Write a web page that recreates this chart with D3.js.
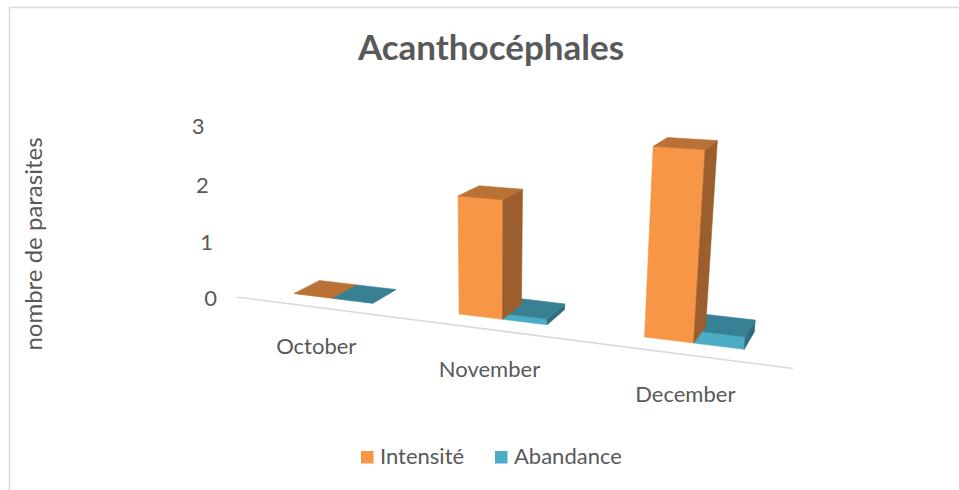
<!DOCTYPE html>
<html>
<head>
<meta charset="utf-8">
<script src="https://cdn.jsdelivr.net/npm/d3@7"></script>
<style>
  body { margin: 0; background: #fff; }
  svg text { font-family: Lato, "Open Sans", sans-serif; fill: #595959; }
</style>
</head>
<body>
<div id="chart"></div>
<script>
// chart data
const months = ['October', 'November', 'December'];
const seriesNames = ['Intensité', 'Abandance'];
const intensite = [0, 2, 3];
const abandance = [0, 0.1, 0.2];
const valueTicks = [0, 1, 2, 3];
const seriesColors = ['#f79646', '#4bacc6'];

const width = 959;
const height = 490;
const fontSize = '22px';

const svg = d3.select('#chart')
  .append('svg')
  .attr('width', width)
  .attr('height', height);

// chart area border
svg.append('rect')
  .attr('x', 9.5)
  .attr('y', 7.5)
  .attr('width', width)
  .attr('height', height)
  .attr('fill', '#fff')
  .attr('stroke', '#d9d9d9')
  .attr('stroke-width', 1.5);

// world scales: categories along x, values up, depth into the screen
const xCat = d3.scaleBand()
  .domain(months)
  .range([0, 3]);

const xSeries = d3.scaleBand()
  .domain(seriesNames)
  .range([0, xCat.bandwidth()])
  .paddingOuter(1.04);

const yWorld = d3.scaleLinear()
  .domain([0, 3])
  .range([0, 0.944]);

const zFront = 0.18;
const zBack = zFront + 0.28;

// simple perspective camera (rotation round the vertical, then tilt down)
const cam = {yaw: 22, pitch: 18.5, dist: 5.8, focal: 1150, cx: 489.5, cy: 329.5, pivotX: 1.5};
const ca = Math.cos(cam.yaw * Math.PI / 180), sa = Math.sin(cam.yaw * Math.PI / 180);
const cb = Math.cos(cam.pitch * Math.PI / 180), sb = Math.sin(cam.pitch * Math.PI / 180);

function toCamera([x, y, z]) {
  const px = x - cam.pivotX;
  const x1 = px * ca + z * sa;
  const z1 = z * ca - px * sa;
  return [x1, y * cb + z1 * sb, z1 * cb - y * sb];
}

function project(p) {
  const [x1, y2, z2] = toCamera(p);
  const den = cam.dist + z2;
  return [cam.cx + cam.focal * x1 / den, cam.cy - cam.focal * y2 / den];
}

// floor front edge (category axis line)
const lineStart = project([xCat.range()[0], 0, 0]);
const lineEnd = project([xCat.range()[1], 0, 0]);
svg.append('line')
  .attr('x1', lineStart[0]).attr('y1', lineStart[1])
  .attr('x2', lineEnd[0]).attr('y2', lineEnd[1])
  .attr('stroke', '#d9d9d9')
  .attr('stroke-width', 1.5);

// value axis labels
svg.selectAll('.tick-label')
  .data(valueTicks)
  .enter()
  .append('text')
  .attr('class', 'tick-label')
  .attr('x', d => project([0, yWorld(d), 0])[0] - 20)
  .attr('y', d => project([0, yWorld(d), 0])[1] + 1)
  .attr('dy', '0.36em')
  .attr('text-anchor', 'end')
  .style('font-size', fontSize)
  .text(d => d);

// category labels
svg.selectAll('.cat-label')
  .data(months)
  .enter()
  .append('text')
  .attr('class', 'cat-label')
  .attr('x', d => project([xCat(d) + xCat.bandwidth() / 2, 0, 0])[0])
  .attr('y', d => project([xCat(d) + xCat.bandwidth() / 2, 0, 0])[1] + 47)
  .attr('text-anchor', 'middle')
  .style('font-size', fontSize)
  .text(d => d);

// bars
const seriesValues = [intensite, abandance];
const bars = [];
months.forEach((m, i) => {
  seriesNames.forEach((s, j) => {
    const x0 = xCat(m) + xSeries(s);
    bars.push({
      month: m,
      series: s,
      color: seriesColors[j],
      value: seriesValues[j][i],
      x0: x0,
      x1: x0 + xSeries.bandwidth()
    });
  });
});

// paint far bars first
bars.forEach(b => {
  b.depth = toCamera([(b.x0 + b.x1) / 2, yWorld(b.value) / 2, (zFront + zBack) / 2])[2];
});
bars.sort((a, b) => b.depth - a.depth);

function faces(b) {
  const h = yWorld(b.value);
  const c = d3.rgb(b.color);
  return [
    {fill: c.formatHex(), pts: [[b.x0, 0, zFront], [b.x1, 0, zFront], [b.x1, h, zFront], [b.x0, h, zFront]]},
    {fill: c.darker(1.3).formatHex(), pts: [[b.x1, 0, zFront], [b.x1, 0, zBack], [b.x1, h, zBack], [b.x1, h, zFront]]},
    {fill: c.darker(0.8).formatHex(), pts: [[b.x0, h, zFront], [b.x1, h, zFront], [b.x1, h, zBack], [b.x0, h, zBack]]}
  ];
}

const barGroup = svg.selectAll('.bar')
  .data(bars)
  .enter()
  .append('g')
  .attr('class', 'bar');

barGroup.selectAll('polygon')
  .data(d => faces(d))
  .enter()
  .append('polygon')
  .attr('points', d => d.pts.map(p => project(p).join(',')).join(' '))
  .attr('fill', d => d.fill)
  .attr('stroke', d => d.fill)
  .attr('stroke-width', 0.6)
  .attr('stroke-linejoin', 'round');

// title
svg.append('text')
  .attr('x', 491)
  .attr('y', 60)
  .attr('text-anchor', 'middle')
  .style('font-size', '35px')
  .style('font-weight', 'bold')
  .text('Acanthocéphales');

// y axis title
svg.append('text')
  .attr('transform', 'translate(42, 244) rotate(-90)')
  .attr('text-anchor', 'middle')
  .style('font-size', '24px')
  .text('nombre de parasites');

// legend
const legend = svg.selectAll('.legend')
  .data(seriesNames)
  .enter()
  .append('g')
  .attr('class', 'legend')
  .attr('transform', (d, i) => `translate(${361 + i * 134}, 451)`);

legend.append('rect')
  .attr('width', 12.5)
  .attr('height', 12.5)
  .attr('fill', (d, i) => seriesColors[i]);

legend.append('text')
  .attr('x', 19)
  .attr('y', 13)
  .style('font-size', fontSize)
  .text(d => d);
</script>
</body>
</html>
